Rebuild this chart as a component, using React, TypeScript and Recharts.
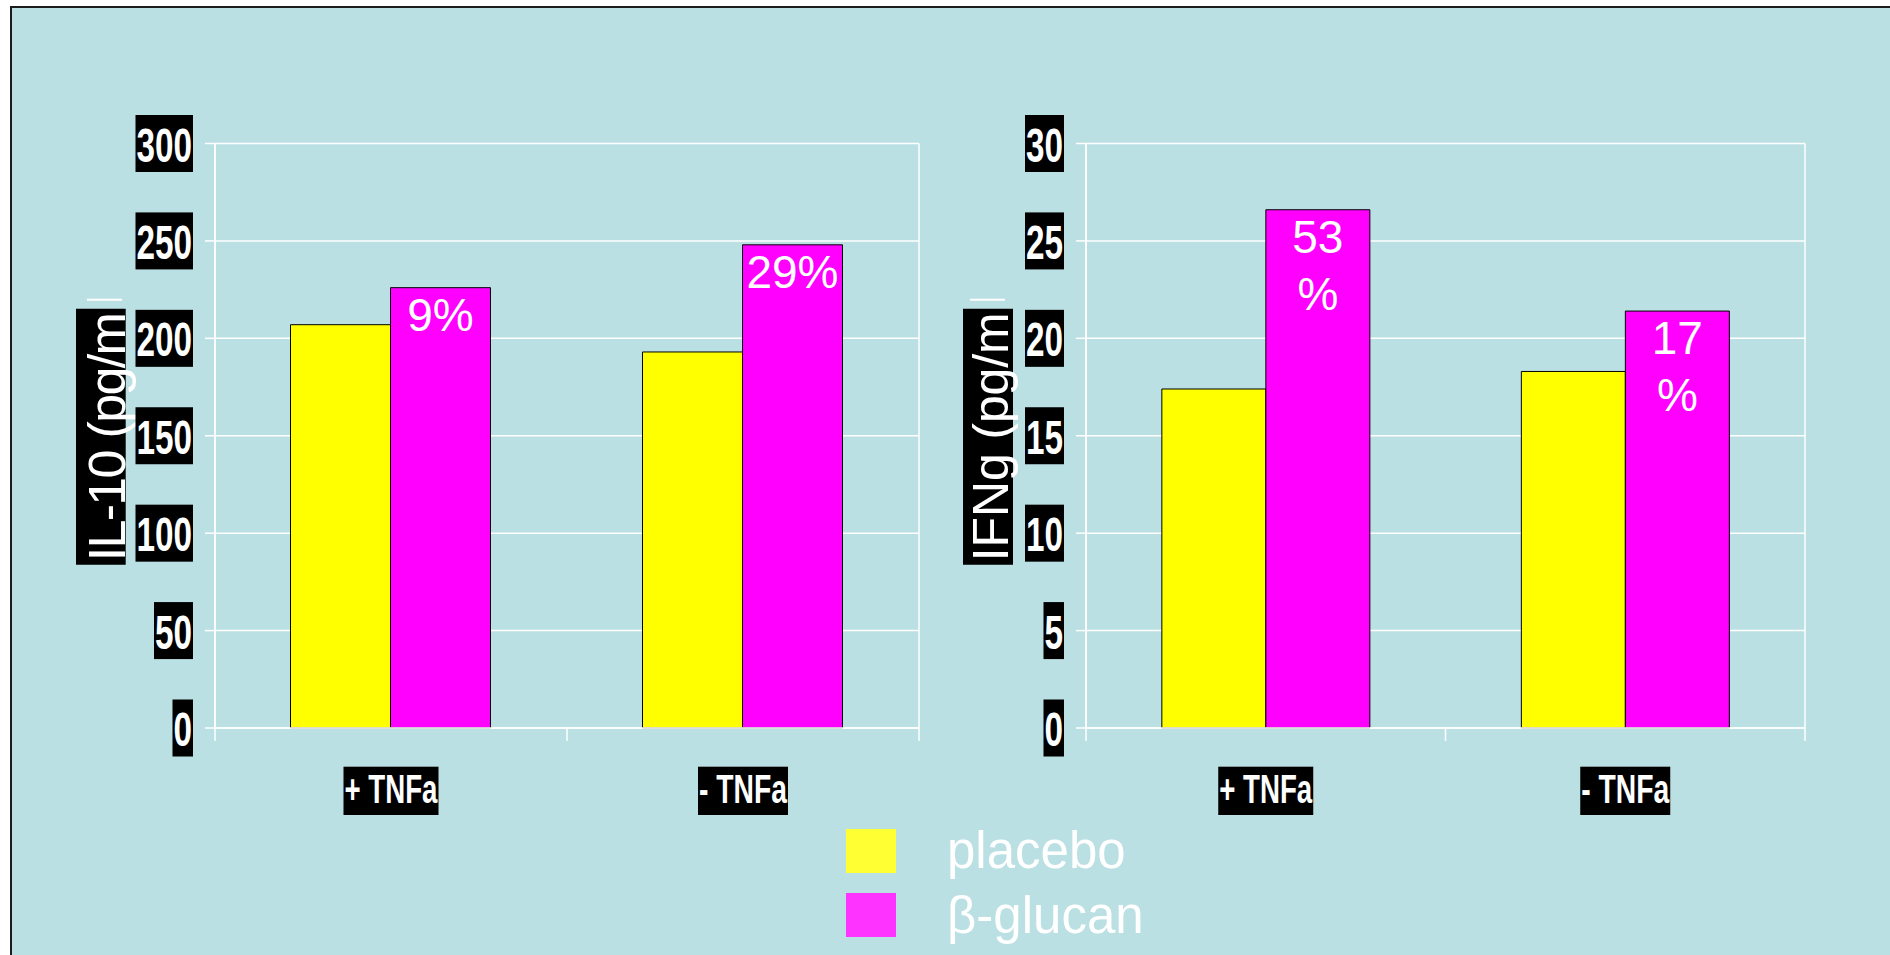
import { Bar, BarChart, CartesianGrid, LabelList, XAxis, YAxis } from "recharts";

const categories = ["+ TNFa", "- TNFa"];
const seriesNames = ["placebo", "β-glucan"];

const il10Placebo = [207, 193];
const il10Glucan = [226, 248];
const il10Gain = [["9%"], ["29%"]];
const il10Ticks = [0, 50, 100, 150, 200, 250, 300];

const ifngPlacebo = [17.4, 18.3];
const ifngGlucan = [26.6, 21.4];
const ifngGain = [["53", "%"], ["17", "%"]];
const ifngTicks = [0, 5, 10, 15, 20, 25, 30];

const BG = "#BBE0E3";
const BAR_COLORS = ["#FFFF00", "#FF00FF"];
const KEY_COLORS = ["#FFFF33", "#FF33FF"];
// bold Arial squeezed with textLength reads like the narrow face
const NARROW = "'Liberation Sans', Arial, sans-serif";
const SANS = "'Liberation Sans', Arial, sans-serif";

function ValueTick({ x, y, payload }: any) {
  const text = String(payload.value);
  const w = text.length * 18.5;
  return (
    <g>
      <rect x={x - w - 1} y={y - 28.5} width={w + 2} height={57} fill="#000" />
      <text
        x={x - w / 2}
        y={y + 18}
        fill="#fff"
        fontFamily={NARROW}
        fontWeight="bold"
        fontSize={49}
        textAnchor="middle"
        textLength={w}
        lengthAdjust="spacingAndGlyphs"
      >
        {text}
      </text>
    </g>
  );
}

function CategoryTick({ x, y, width, payload, index }: any) {
  const band = payload.offset ? payload.offset * 2 : width / categories.length;
  const text = String(payload.value);
  const w = text.startsWith("+") ? 93 : 88;
  const left = x - band / 2;
  return (
    <g>
      <line x1={left} y1={y} x2={left} y2={y + 13} stroke="#fff" strokeWidth={1.5} />
      {index === categories.length - 1 && (
        <line x1={left + band} y1={y} x2={left + band} y2={y + 13} stroke="#fff" strokeWidth={1.5} />
      )}
      <rect x={x - w / 2 - 1} y={y + 38.7} width={w + 2} height={48.3} fill="#000" />
      <text
        x={x}
        y={y + 75.3}
        fill="#fff"
        fontFamily={NARROW}
        fontWeight="bold"
        fontSize={40}
        textAnchor="middle"
        textLength={w}
        lengthAdjust="spacingAndGlyphs"
      >
        {text}
      </text>
    </g>
  );
}

type PanelProps = {
  title: string;
  placebo: number[];
  glucan: number[];
  gain: string[][];
  ticks: number[];
  left: number;
  width: number;
  margin: { top: number; right: number; bottom: number; left: number };
  gap: string;
  titleBase: number;
  titleBox: [number, number];
  titleSize: number;
};

function Panel({ title, placebo, glucan, gain, ticks, left, width, margin, gap, titleBase, titleBox, titleSize }: PanelProps) {
  const data = categories.map((c, i) => ({ name: c, placebo: placebo[i], glucan: glucan[i] }));

  const axisTitle = (props: any) => {
    const vb = props.viewBox;
    const plotLeft = vb.x + vb.width;
    const cy = vb.y + vb.height / 2 + 1;
    const bx = plotLeft + titleBase;
    return (
      <g>
        <line x1={bx - 38} y1={cy - 137} x2={bx - 3} y2={cy - 137} stroke="#fff" strokeWidth={2} />
        <rect x={plotLeft + titleBox[0]} y={cy - 128} width={titleBox[1] - titleBox[0]} height={256} fill="#000" />
        <text
          x={bx}
          y={cy}
          transform={`rotate(-90, ${bx}, ${cy})`}
          fill="#fff"
          fontFamily={SANS}
          fontSize={titleSize}
          textAnchor="middle"
          textLength={249}
          lengthAdjust="spacing"
        >
          {title}
        </text>
      </g>
    );
  };

  return (
    <div style={{ position: "absolute", left, top: 0 }}>
      <BarChart width={width} height={955} data={data} margin={margin} barCategoryGap={gap} barGap={0}>
        <CartesianGrid
          stroke="#fff"
          strokeWidth={1.5}
          verticalCoordinatesGenerator={({ offset }: any) => [offset.left, offset.left + offset.width]}
        />
        <XAxis
          dataKey="name"
          height={100}
          axisLine={{ stroke: "#fff", strokeWidth: 1.5 }}
          tickLine={false}
          tickSize={0}
          tickMargin={0}
          tick={<CategoryTick />}
          interval={0}
        />
        <YAxis
          width={100}
          domain={[ticks[0], ticks[ticks.length - 1]]}
          ticks={ticks}
          axisLine={{ stroke: "#fff", strokeWidth: 1.5 }}
          tickLine={{ stroke: "#fff", strokeWidth: 1.5 }}
          tickSize={10}
          tickMargin={13}
          tick={<ValueTick />}
          interval={0}
          label={{ content: axisTitle }}
        />
        <Bar dataKey="placebo" name={seriesNames[0]} fill={BAR_COLORS[0]} stroke="#000" strokeWidth={1} isAnimationActive={false} />
        <Bar dataKey="glucan" name={seriesNames[1]} fill={BAR_COLORS[1]} stroke="#000" strokeWidth={1} isAnimationActive={false}>
          <LabelList
            dataKey="glucan"
            content={(p: any) => {
              const lines = gain[p.index] || [];
              const cx = p.x + p.width / 2;
              return (
                <text fill="#fff" fontFamily={SANS} fontSize={46} textAnchor="middle">
                  {lines.map((l, i) => (
                    <tspan key={i} x={cx} y={p.y + 43 + i * 57}>
                      {l}
                    </tspan>
                  ))}
                </text>
              );
            }}
          />
        </Bar>
      </BarChart>
    </div>
  );
}

function Key() {
  return (
    <svg width={400} height={140} style={{ position: "absolute", left: 820, top: 810 }}>
      {seriesNames.map((s, i) => (
        <g key={s}>
          <rect x={26} y={19 + i * 64} width={50} height={44} fill={KEY_COLORS[i]} />
          <text x={127} y={58 + i * 65} fill="#fff" fontFamily={SANS} fontSize={51}>
            {s}
          </text>
        </g>
      ))}
    </svg>
  );
}

export default function App() {
  return (
    <div style={{ position: "fixed", left: 0, top: 0, width: 1890, height: 955, background: "#fff", overflow: "hidden" }}>
      <div
        style={{
          position: "absolute",
          left: 10,
          top: 6,
          width: 1900,
          height: 960,
          background: BG,
          borderLeft: "2px solid #1c1c1c",
          borderTop: "2px solid #1c1c1c",
        }}
      />
      <Panel
        title="IL-10 (pg/m"
        placebo={il10Placebo}
        glucan={il10Glucan}
        gain={il10Gain}
        ticks={il10Ticks}
        left={0}
        width={960}
        margin={{ top: 143.5, right: 41, bottom: 127, left: 115 }}
        gap="21.45%"
        titleBase={-90}
        titleBox={[-139, -89.3]}
        titleSize={52}
      />
      <Panel
        title="IFNg (pg/m"
        placebo={ifngPlacebo}
        glucan={ifngGlucan}
        gain={ifngGain}
        ticks={ifngTicks}
        left={960}
        width={930}
        margin={{ top: 143.5, right: 85, bottom: 127, left: 26 }}
        gap="21.1%"
        titleBase={-78}
        titleBox={[-123, -73]}
        titleSize={50}
      />
      <Key />
    </div>
  );
}
